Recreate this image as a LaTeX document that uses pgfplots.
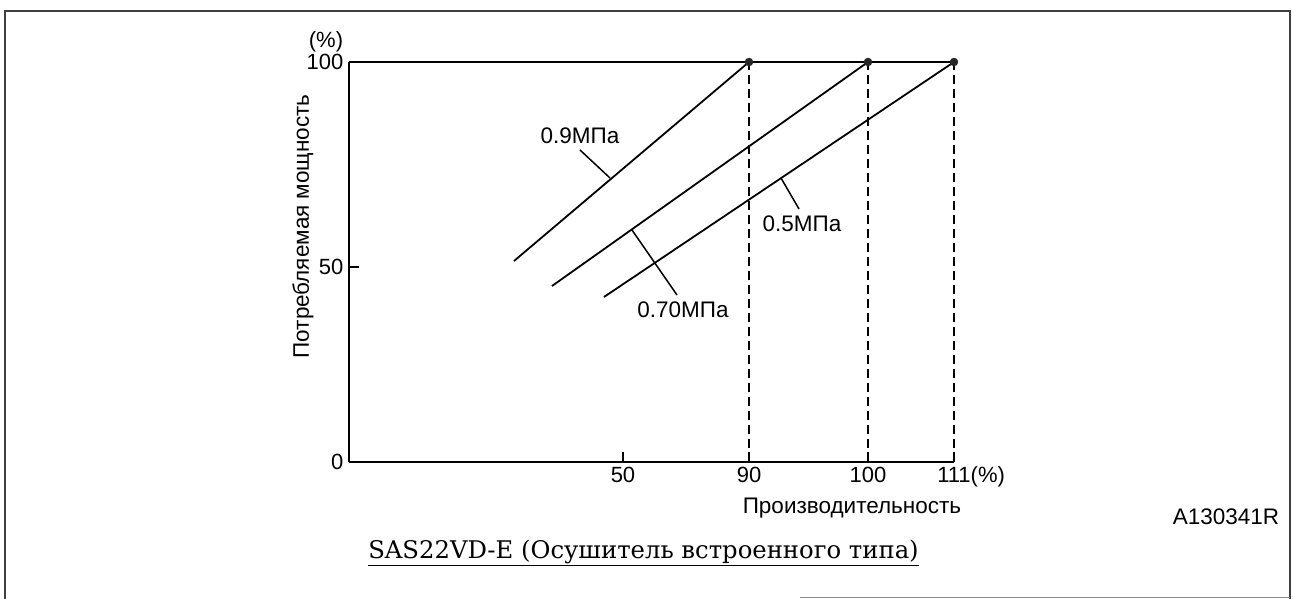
\documentclass[border=0pt]{standalone}
\usepackage{fontspec}
\setmainfont{Liberation Sans}
\newfontfamily\titlefont{DejaVu Serif}
\usepackage{pgfplots}
\pgfplotsset{compat=1.18}
\newcommand{\lbl}{\fontsize{22.5bp}{26bp}\selectfont}
\begin{document}
\begin{tikzpicture}
\begin{axis}[
  scale only axis, width=605bp, height=400bp,
  xmin=349, xmax=954, ymin=0, ymax=100,
  axis lines*=left,
  axis line style={line width=1.4bp, black},
  xtick={623,749,868,954}, xticklabels={50,90,100,111\rlap{(\%)}},
  ytick={0,48.75,100}, yticklabels={0,50,100},
  tick align=inside, major tick length=10bp,
  tick style={line width=1.4bp, black},
  /pgf/number format/assume math mode=true,
  ticklabel style={font=\fontsize{22bp}{26bp}\selectfont, inner sep=2.5bp},
  xticklabel style={yshift=-2bp},
  yticklabel style={xshift=-3bp},
  clip=false,
]
% top line at 100 %
\addplot[black, line width=1.4bp] coordinates {(349,100) (954,100)};
% dashed drop lines
\addplot[black, line width=1.3bp, dash pattern=on 9bp off 5bp] coordinates {(749,0) (749,100)};
\addplot[black, line width=1.3bp, dash pattern=on 9bp off 5bp] coordinates {(868,0) (868,100)};
\addplot[black, line width=1.3bp, dash pattern=on 9bp off 5bp] coordinates {(954,0) (954,100)};
% pressure lines
\addplot[black, line width=1.8bp] coordinates {(514,50.25) (749,100)};
\addplot[black, line width=1.8bp] coordinates {(552,44) (868,100)};
\addplot[black, line width=1.8bp] coordinates {(604,41.25) (954,100)};
% end points
\addplot[only marks, mark=*, mark size=4bp, black!85] coordinates {(749,100) (868,100) (954,100)};
% leaders
\draw[line width=1.5bp] (axis cs:580,78) -- (axis cs:610,71);
\draw[line width=1.5bp] (axis cs:799,63.25) -- (axis cs:781,71);
\draw[line width=1.5bp] (axis cs:632,58) -- (axis cs:677,41.75);
% line labels
\node[font=\lbl] at (axis cs:580,81.5) {0.9МПа};
\node[font=\lbl] at (axis cs:802,59.5) {0.5МПа};
\node[font=\lbl] at (axis cs:683,38) {0.70МПа};
% axis texts
\node[font=\fontsize{22bp}{26bp}\selectfont] at (axis cs:326,105) {(\%)};
\node[font=\lbl, rotate=90] at (axis cs:303,58.9) {Потребляемая мощность};
\node[font=\lbl] at (axis cs:852,-11.5) {Производительность};
\node[font=\lbl] at (axis cs:1226,-13.75) {A130341R};
\node[font=\fontsize{24.3bp}{28bp}\selectfont\titlefont] at (axis cs:643.5,-22.75) {\underline{SAS22VD-E (Осушитель встроенного типа)}};
% frame
\draw[line width=2.6bp, black!75] (axis cs:5,-34.25) -- (axis cs:5,112.75) -- (axis cs:1290,112.75) -- (axis cs:1290,-34.25);
\draw[line width=1.4bp, black!45] (axis cs:800,-33.8) -- (axis cs:1290,-33.8);
\coordinate (bbA) at (axis cs:0,115.5);
\coordinate (bbB) at (axis cs:1293,-34.25);
\end{axis}
\pgfresetboundingbox
\path (bbA) rectangle (bbB);
\end{tikzpicture}
\end{document}
